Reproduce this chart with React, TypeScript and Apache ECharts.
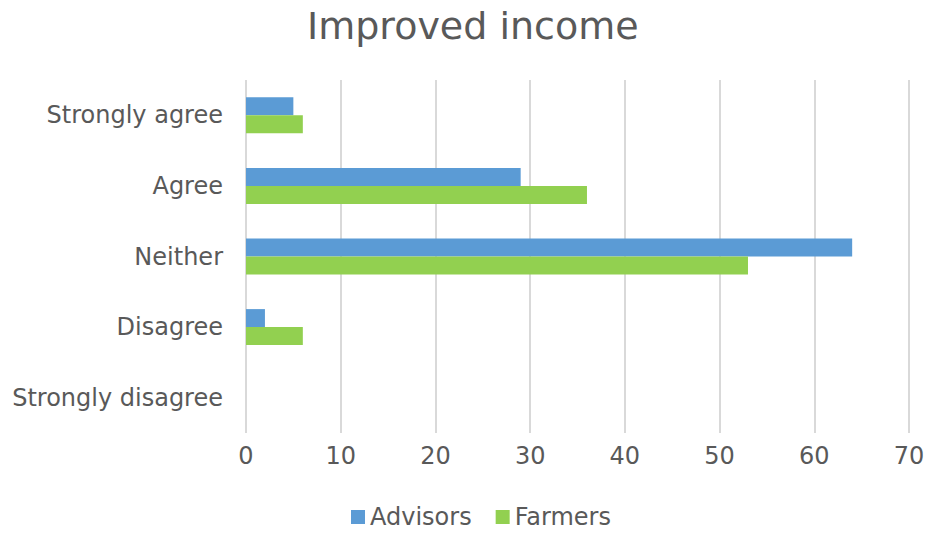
import React, { useEffect, useRef } from "react";
import * as echarts from "echarts";

const categories = ["Strongly agree", "Agree", "Neither", "Disagree", "Strongly disagree"];
const advisors = [5, 29, 64, 2, 0];
const farmers = [6, 36, 53, 6, 0];
const xTicks = { min: 0, max: 70, interval: 10 };

const FONT = "'DejaVu Sans', Verdana, sans-serif";
const TEXT = "#595959";

export default function App() {
  const ref = useRef<HTMLDivElement>(null);
  useEffect(() => {
    if (!ref.current) return;
    const chart = echarts.init(ref.current, null, { renderer: "svg" });
    chart.setOption({
      animation: false,
      backgroundColor: "#ffffff",
      title: {
        text: "Improved income",
        left: 302,
        top: 2,
        textStyle: { fontFamily: FONT, fontSize: 38, fontWeight: "normal", color: TEXT },
      },
      legend: {
        bottom: 0,
        left: 346,
        itemWidth: 14,
        itemHeight: 14,
        itemGap: 24,
        icon: "rect",
        textStyle: { fontFamily: FONT, fontSize: 24, color: TEXT },
        data: ["Advisors", "Farmers"],
      },
      grid: { left: 246, right: 19, top: 80, bottom: 101, containLabel: false },
      xAxis: {
        type: "value",
        min: xTicks.min,
        max: xTicks.max,
        interval: xTicks.interval,
        axisLine: { show: false },
        axisTick: { show: false },
        axisLabel: { fontFamily: FONT, fontSize: 24, color: TEXT, margin: 11 },
        splitLine: { show: true, lineStyle: { color: "#d9d9d9", width: 2 } },
      },
      yAxis: {
        type: "category",
        data: categories,
        inverse: true,
        axisLine: { show: false },
        axisTick: { show: false },
        axisLabel: { fontFamily: FONT, fontSize: 24, color: TEXT, margin: 23 },
        splitLine: { show: false },
      },
      series: [
        {
          name: "Advisors",
          type: "bar",
          data: advisors,
          barWidth: 18,
          barGap: "0%",
          itemStyle: { color: "#5b9bd5" },
        },
        {
          name: "Farmers",
          type: "bar",
          data: farmers,
          barWidth: 18,
          barGap: "0%",
          itemStyle: { color: "#92d050" },
        },
      ],
    });
    return () => chart.dispose();
  }, []);
  return <div ref={ref} style={{ width: 928, height: 534, position: "absolute", left: 0, top: 0 }} />;
}
